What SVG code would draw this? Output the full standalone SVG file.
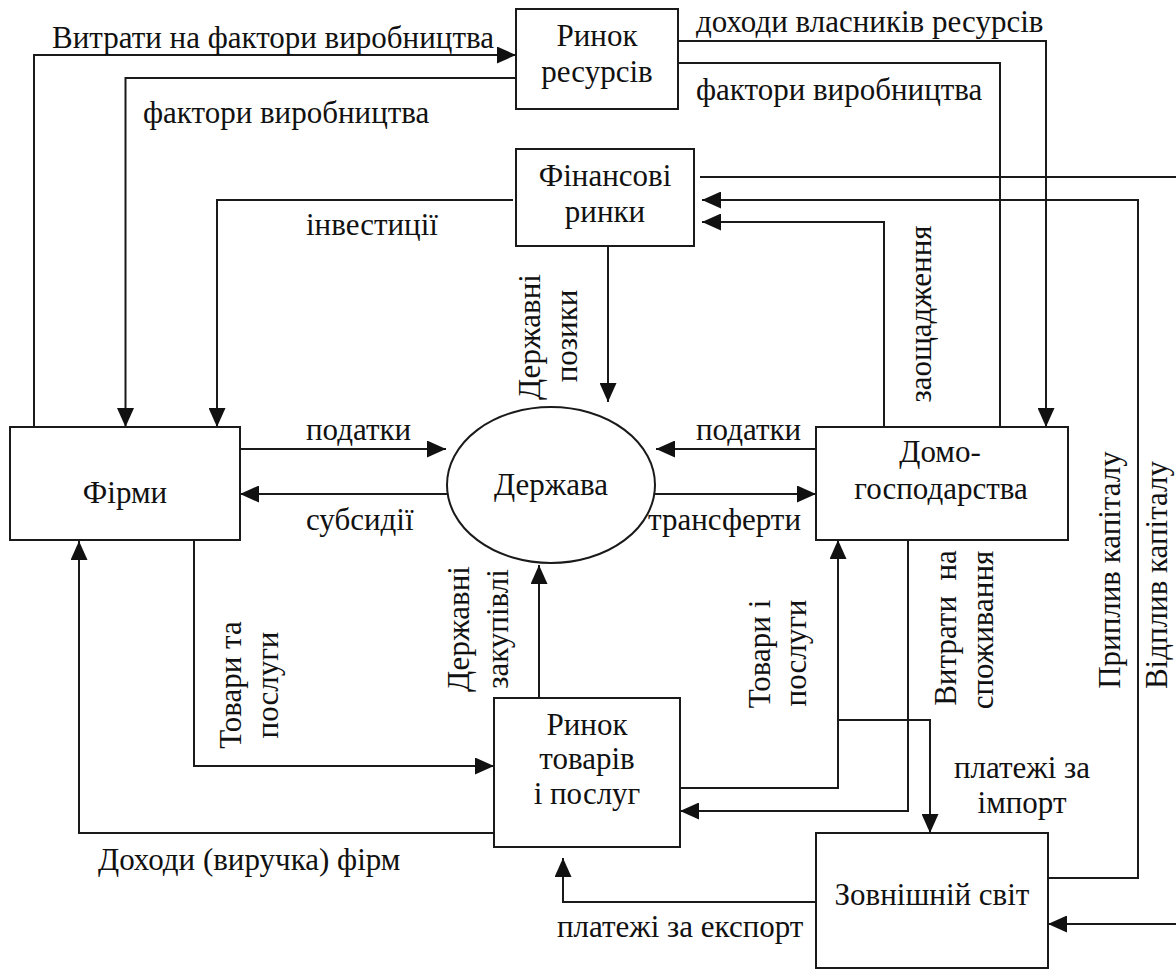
<svg xmlns="http://www.w3.org/2000/svg" width="1176" height="969" viewBox="0 0 1176 969">
<style>
text{font-family:"Liberation Serif","DejaVu Serif",serif;font-size:31px;fill:#111}
.c{text-anchor:middle}
.box{fill:#fff;stroke:#1a1a1a;stroke-width:2}
.ln{fill:none;stroke:#1a1a1a;stroke-width:2}
.a{marker-end:url(#arr)}
</style>
<defs>
<marker id="arr" markerUnits="userSpaceOnUse" markerWidth="19" markerHeight="17" refX="19" refY="8.5" orient="auto">
<path d="M0,0 L19,8.5 L0,17 z" fill="#111"/>
</marker>
</defs>
<rect width="1176" height="969" fill="#fff"/>
<g id="connectors">
<path class="ln a" d="M34,427 V55 H516"/>
<path class="ln a" d="M516,78 H125.5 V427"/>
<path class="ln a" d="M513,200 H217 V427"/>
<path class="ln a" d="M608,246 V402"/>
<path class="ln a" d="M240,449 H446"/>
<path class="ln a" d="M448,494 H240"/>
<path class="ln a" d="M816,449 H656"/>
<path class="ln a" d="M655,494 H816"/>
<path class="ln a" d="M678,41 H1046 V427"/>
<path class="ln" d="M678,63 H1000 V427"/>
<path class="ln" d="M700,177 H1176"/>
<path class="ln a" d="M1045,878 H1138 V200 H702"/>
<path class="ln a" d="M884,427 V222 H702"/>
<path class="ln a" d="M1176,924 H1048"/>
<path class="ln a" d="M194,540 V766 H494"/>
<path class="ln a" d="M494,833 H79 V541"/>
<path class="ln a" d="M539,698 V565"/>
<path class="ln a" d="M680,788 H838 V540"/>
<path class="ln a" d="M838,720 H930 V833"/>
<path class="ln a" d="M908,540 V811 H680"/>
<path class="ln a" d="M816,902 H563 V858"/>
</g>
<g id="labels">
<text x="52" y="48">Витрати на фактори виробництва</text>
<text x="143" y="123">фактори виробництва</text>
<text x="306" y="235">інвестиції</text>
<text x="696" y="32">доходи власників ресурсів</text>
<text x="696" y="100">фактори виробництва</text>
<text x="306" y="440">податки</text>
<text x="306" y="530">субсидії</text>
<text x="696" y="440">податки</text>
<text x="648" y="530">трансферти</text>
<text x="98" y="870">Доходи (виручка) фірм</text>
<text class="c" x="1022" y="778">платежі за</text>
<text class="c" x="1022" y="813">імпорт</text>
<text x="557" y="937">платежі за експорт</text>
<text class="c" transform="translate(540,337) rotate(-90)">Державні</text>
<text class="c" transform="translate(577,336) rotate(-90)">позики</text>
<text class="c" transform="translate(931,314) rotate(-90)">заощадження</text>
<text class="c" transform="translate(241,685) rotate(-90)">Товари та</text>
<text class="c" transform="translate(278,685) rotate(-90)">послуги</text>
<text class="c" transform="translate(469,629) rotate(-90)">Державні</text>
<text class="c" transform="translate(508,629) rotate(-90)">закупівлі</text>
<text class="c" transform="translate(770,654) rotate(-90)">Товари і</text>
<text class="c" transform="translate(806,653) rotate(-90)">послуги</text>
<text class="c" transform="translate(956,628) rotate(-90)" xml:space="preserve">Витрати  на</text>
<text class="c" transform="translate(993,630) rotate(-90)">споживання</text>
<text class="c" transform="translate(1120,570) rotate(-90)">Приплив капіталу</text>
<text class="c" transform="translate(1167,575) rotate(-90)">Відплив капіталу</text>
</g>
<g id="resource-market">
<rect class="box" x="516" y="9" width="162" height="100"/>
<text class="c" x="597" y="46">Ринок</text>
<text class="c" x="597" y="82">ресурсів</text>
</g>
<g id="financial-markets">
<rect class="box" x="516" y="149" width="178" height="97"/>
<text class="c" x="605" y="186">Фінансові</text>
<text class="c" x="605" y="222">ринки</text>
</g>
<g id="firms">
<rect class="box" x="10" y="427" width="230" height="113"/>
<text class="c" x="125" y="503">Фірми</text>
</g>
<g id="state">
<ellipse cx="551" cy="485" rx="104" ry="78" fill="#fff" stroke="#1a1a1a" stroke-width="2"/>
<text class="c" x="551" y="495">Держава</text>
</g>
<g id="households">
<rect class="box" x="816" y="427" width="252" height="113"/>
<text class="c" x="940" y="462">Домо-</text>
<text class="c" x="941" y="499">господарства</text>
</g>
<g id="goods-market">
<rect class="box" x="494" y="698" width="186" height="149"/>
<text class="c" x="587" y="735">Ринок</text>
<text class="c" x="587" y="769">товарів</text>
<text class="c" x="587" y="804">і послуг</text>
</g>
<g id="rest-of-world">
<rect class="box" x="816" y="833" width="232" height="135"/>
<text class="c" x="932" y="905">Зовнішній світ</text>
</g>
</svg>
